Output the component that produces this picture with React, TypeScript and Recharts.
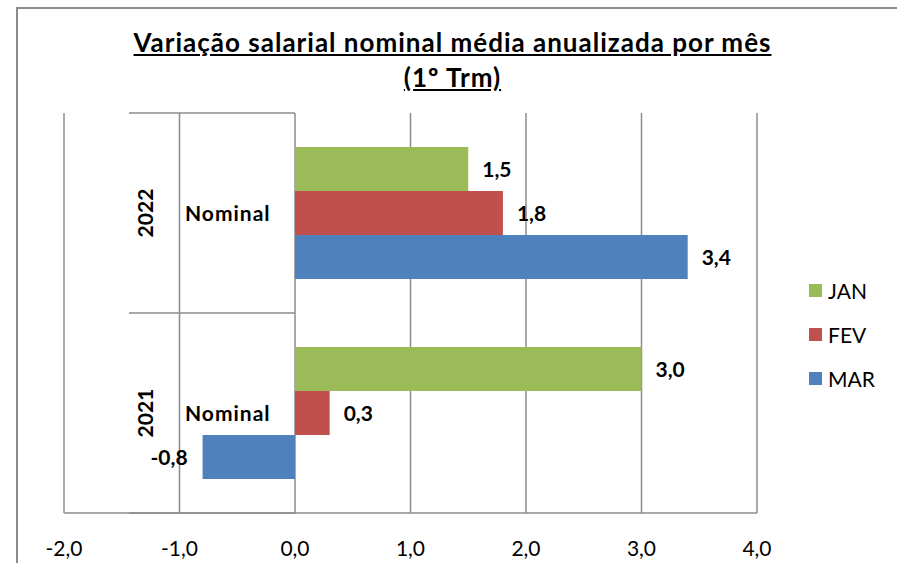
import { BarChart, Bar, XAxis, YAxis, CartesianGrid, LabelList } from 'recharts'

const years = ['2022', '2021']
const measure = 'Nominal'
const janValues = [1.5, 3.0]
const fevValues = [1.8, 0.3]
const marValues = [3.4, -0.8]
const xTicks = [-2, -1, 0, 1, 2, 3, 4]
const titleLines = ['Variação salarial nominal média anualizada por mês', '(1º Trm)']

const SERIES = [
  { key: 'jan', name: 'JAN', color: '#9BBB59' },
  { key: 'fev', name: 'FEV', color: '#C0504D' },
  { key: 'mar', name: 'MAR', color: '#4F81BD' },
]

const data = years.map((year, i) => ({
  year,
  jan: janValues[i],
  fev: fevValues[i],
  mar: marValues[i],
}))

const FONT = 'Lato, "Open Sans", sans-serif'
const W = 897
const H = 563
const Y_AXIS_W = 1
const MARGIN = { top: 113, right: 140, bottom: 0, left: 64 - Y_AXIS_W }
const X_AXIS_H = 50
const PLOT_LEFT = MARGIN.left + Y_AXIS_W
const PLOT_W = W - PLOT_LEFT - MARGIN.right
const PLOT_H = H - MARGIN.top - MARGIN.bottom - X_AXIS_H
const X_DOMAIN: [number, number] = [-2, 4]
// x pixel of value 0, where Excel puts the category axis
const ZERO_X = PLOT_LEFT + ((0 - X_DOMAIN[0]) / (X_DOMAIN[1] - X_DOMAIN[0])) * PLOT_W
const GRID = '#8c8c8c'

const fmt = (v: number) => v.toFixed(1).replace('.', ',')

// two-level category labels (year rotated + "Nominal") drawn next to the 0 line
function CategoryTick({ y, payload, index }: any) {
  const band = PLOT_H / years.length
  const top = y - band / 2
  const left = ZERO_X - 166
  return (
    <g>
      <line x1={left} x2={ZERO_X} y1={top} y2={top} stroke={GRID} strokeWidth={1.5} />
      {index === years.length - 1 && (
        <line x1={left} x2={ZERO_X} y1={top + band} y2={top + band} stroke={GRID} strokeWidth={1.5} />
      )}
      <text
        x={ZERO_X - 142}
        y={y}
        transform={`rotate(-90 ${ZERO_X - 142} ${y})`}
        textAnchor="middle"
        fontFamily={FONT}
        fontSize={21}
        fontWeight={700}
        fill="#000"
      >
        {payload.value}
      </text>
      <text
        x={ZERO_X - 110}
        y={y + 7.5}
        fontFamily={FONT}
        fontSize={21}
        fontWeight={700}
        letterSpacing={1}
        fill="#000"
      >
        {measure}
      </text>
    </g>
  )
}

function ValueLabel({ x, y, width, height, value }: any) {
  const pos = value >= 0
  const end = pos ? Math.max(x, x + width) : Math.min(x, x + width)
  return (
    <text
      x={pos ? end + 14 : end - 15}
      y={y + height / 2 + 7.5}
      textAnchor={pos ? 'start' : 'end'}
      fontFamily={FONT}
      fontSize={21}
      fontWeight={700}
      fill="#000"
    >
      {fmt(value)}
    </text>
  )
}

export default function App() {
  return (
    <div
      style={{
        position: 'absolute',
        left: 0,
        top: 0,
        width: W,
        height: H,
        overflow: 'hidden',
        background: '#fff',
        fontFamily: FONT,
      }}
    >
      <div
        style={{
          position: 'absolute',
          left: 16,
          top: 7,
          width: W,
          height: H,
          borderLeft: `2px solid ${GRID}`,
          borderTop: `2px solid ${GRID}`,
        }}
      />
      <div
        style={{
          position: 'absolute',
          left: 8,
          top: 25,
          width: 889,
          textAlign: 'center',
          fontSize: 26,
          letterSpacing: 1,
          lineHeight: '35px',
          fontWeight: 700,
          textDecoration: 'underline',
          color: '#000',
        }}
      >
        {titleLines.map(t => (
          <div key={t}>{t}</div>
        ))}
      </div>

      <div style={{ position: 'absolute', left: 0, top: 0 }}>
        <BarChart
          width={W}
          height={H}
          data={data}
          layout="vertical"
          margin={MARGIN}
          barCategoryGap="17%"
          barGap={0}
        >
          <CartesianGrid horizontal={false} stroke={GRID} strokeWidth={1.5} />
          <XAxis
            type="number"
            domain={X_DOMAIN}
            ticks={xTicks}
            tickFormatter={fmt}
            height={X_AXIS_H}
            axisLine={{ stroke: GRID, strokeWidth: 1.5 }}
            tickLine={false}
            tickMargin={22}
            tick={{ fill: '#000', fontSize: 21, fontFamily: FONT }}
          />
          <YAxis
            type="category"
            dataKey="year"
            width={Y_AXIS_W}
            axisLine={false}
            tickLine={false}
            interval={0}
            tick={<CategoryTick />}
          />
          {SERIES.map(s => (
            <Bar key={s.key} dataKey={s.key} name={s.name} fill={s.color} isAnimationActive={false}>
              <LabelList dataKey={s.key} content={<ValueLabel />} />
            </Bar>
          ))}
        </BarChart>
      </div>

      <div style={{ position: 'absolute', left: 809, top: 268 }}>
        {SERIES.map(s => (
          <div key={s.key} style={{ display: 'flex', alignItems: 'center', height: 44 }}>
            <span style={{ display: 'inline-block', width: 13, height: 13, background: s.color, marginRight: 6 }} />
            <span style={{ fontSize: 21, color: '#000' }}>{s.name}</span>
          </div>
        ))}
      </div>
    </div>
  )
}
